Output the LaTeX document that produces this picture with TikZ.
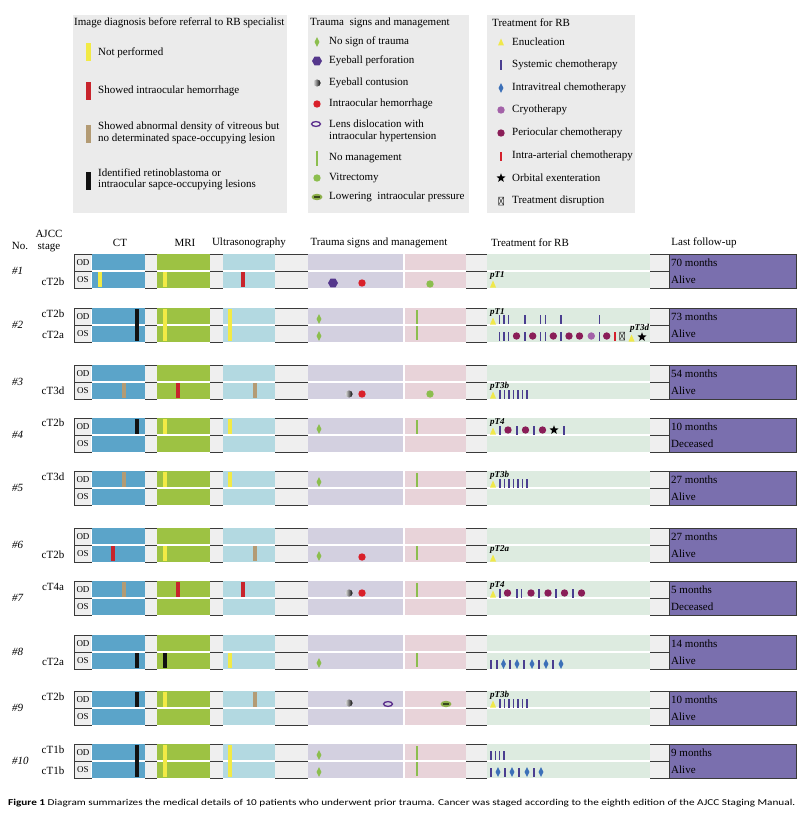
\documentclass[tikz,border=0pt]{standalone}
\usepackage{fontspec}
\setmainfont{Liberation Serif}
\newfontfamily\capfont{Carlito}
\usetikzlibrary{shapes.geometric}
\definecolor{ctc}{HTML}{5BA4C9}
\definecolor{mric}{HTML}{9DC243}
\definecolor{usc}{HTML}{B3D9E1}
\definecolor{trc}{HTML}{D3D0E0}
\definecolor{pkc}{HTML}{E8D3D9}
\definecolor{txc}{HTML}{DDEBE0}
\definecolor{puc}{HTML}{7A6FAE}
\definecolor{gapc}{HTML}{EFEFEF}
\definecolor{legc}{HTML}{EBEBEB}
\definecolor{framec}{HTML}{3A3A3A}
\definecolor{yelc}{HTML}{F2EA45}
\definecolor{redc}{HTML}{C8242C}
\definecolor{tanc}{HTML}{B39B74}
\definecolor{blkc}{HTML}{111111}
\definecolor{grnc}{HTML}{8CBE4E}
\definecolor{hexc}{HTML}{55378C}
\definecolor{dotred}{HTML}{D9202A}
\definecolor{lensc}{HTML}{5A2D8C}
\definecolor{iopc}{HTML}{8DAF4A}
\definecolor{triy}{HTML}{F0E84A}
\definecolor{sysc}{HTML}{4A3E90}
\definecolor{ivc}{HTML}{3C70B8}
\definecolor{cryc}{HTML}{A362A8}
\definecolor{perc}{HTML}{8A1E58}
\definecolor{iac}{HTML}{D4202C}
\tikzset{
  txt/.style={inner sep=0pt, anchor=west},
  ctxt/.style={inner sep=0pt},
  odos/.style={inner sep=0pt, font=\fontsize{9}{10}\selectfont},
  ptlab/.style={inner sep=0pt, anchor=west, font=\fontsize{9}{10}\selectfont\bfseries\itshape},
  legbox/.style={fill=legc, draw=none},
  gapline/.style={draw=framec, line width=0.9pt},
}
% markers
\newcommand\mCb[4]{\fill[#4] (#1-2,#2) rectangle (#1+2,#3);}
\newcommand\mCbOD[2]{\mCb{#1}{1}{16}{#2}}
\newcommand\mCbOS[2]{\mCb{#1}{18}{33}{#2}}
\newcommand\mCbF[2]{\mCb{#1}{1}{33}{#2}}
\newcommand\mDia[3]{\fill[#3] (#1,#2-5) -- (#1+2.4,#2) -- (#1,#2+5) -- (#1-2.4,#2) -- cycle;}
\newcommand\mDot[3]{\fill[#3] (#1,#2) circle (3.7);}
\newcommand\mHex[2]{\node[regular polygon, regular polygon sides=6, fill=hexc, inner sep=0pt, minimum size=10pt] at (#1,#2) {};}
\newcommand\mCont[2]{\shade[left color=gray!25, right color=black] (#1,#2) circle (3.6);}
\newcommand\mLens[2]{\draw[lensc, line width=1.3pt] (#1,#2) ellipse (4.5 and 2.4);}
\newcommand\mIop[2]{\fill[iopc] (#1,#2) ellipse (5.5 and 3.2); \draw[black!60!iopc, line width=1.2pt] (#1-3,#2) -- (#1+3,#2);}
\newcommand\mNm[3]{\fill[grnc] (#1-1.3,#2) rectangle (#1+1.3,#3);}
\newcommand\mNmOD[1]{\mNm{#1}{2}{16}}
\newcommand\mNmOS[1]{\mNm{#1}{18}{32}}
\newcommand\mSys[2]{\fill[sysc] (#1-0.9,#2-4.5) rectangle (#1+0.9,#2+4.5);}
\newcommand\mIa[2]{\fill[iac] (#1-0.9,#2-4.5) rectangle (#1+0.9,#2+4.5);}
\newcommand\mTri[2]{\fill[triy] (#1-3,#2+3.5) -- (#1+3,#2+3.5) -- (#1,#2-3.5) -- cycle;}
\newcommand\mStar[2]{\node[star, star points=5, star point ratio=2.4, fill=black, inner sep=0pt, minimum size=9.5pt] at (#1,#2) {};}
\newcommand\mDisr[2]{\draw[black!80, line width=0.5pt] (#1-2.5,#2-4) rectangle (#1+2.5,#2+4) (#1-2.5,#2-4) -- (#1+2.5,#2+4) (#1+2.5,#2-4) -- (#1-2.5,#2+4);}
\newcommand\mPt[3]{\node[ptlab] at (#1,#2) {#3};}
\newcommand\mFollow[2]{\node[txt] at (671,9) {#1}; \node[txt] at (671,26) {#2};}
\newcommand\rowbg{%
  \fill[gapc] (74,0) rectangle (669,34);
  \fill[ctc] (92,0) rectangle (145,34);
  \fill[mric] (157,0) rectangle (210,34);
  \fill[usc] (223,0) rectangle (275,34);
  \fill[trc] (308,0) rectangle (404,34);
  \fill[pkc] (404,0) rectangle (466,34);
  \fill[txc] (487,0) rectangle (650,34);
  \draw[white, line width=1.2pt] (92,17) -- (145,17) (157,17) -- (210,17) (223,17) -- (275,17) (308,17) -- (466,17) (487,17) -- (650,17) (404,0) -- (404,34);
  \foreach \a/\b in {145/157,210/223,275/308,466/487,650/669}{%
    \draw[gapline] (\a,0.5) -- (\b,0.5) (\a,17) -- (\b,17) (\a,34) -- (\b,34);}
  \draw[framec, line width=0.9pt] (92,0.5) -- (74.5,0.5) -- (74.5,34) -- (92,34) (74.5,17) -- (92,17);
  \draw[white, line width=0.6pt] (91.5,1.5) -- (91.5,16) (91.5,18) -- (91.5,33);
  \filldraw[fill=puc, draw=framec, line width=0.9pt] (669,0.5) rectangle (796,34);
  \node[odos] at (83,9) {OD};
  \node[odos] at (83,26) {OS};
}
\begin{document}
\begin{tikzpicture}[x=1pt, y=-1pt, font=\fontsize{11}{13}\selectfont]
\useasboundingbox (0,0) rectangle (811,816);
\fill[white] (0,0) rectangle (811,816);
% ---------- legend 1
\fill[legbox] (73,15) rectangle (287,213);
\node[txt] (l1t) at (74,23) {Image diagnosis before referral to RB specialist};
\fill[yelc] (86,43) rectangle (91,61);
\node[txt] (l1a) at (98,53) {Not performed};
\fill[redc] (86,82) rectangle (91,100);
\node[txt] (l1b) at (98,91) {Showed intraocular hemorrhage};
\fill[tanc] (86,125) rectangle (91,143);
\node[txt] (l1c) at (98,127) {Showed abnormal density of vitreous but};
\node[txt] (l1c2) at (98,139) {no determinated space-occupying lesion};
\fill[blkc] (86,172) rectangle (91,190);
\node[txt] (l1d) at (98,173) {Identified retinoblastoma or};
\node[txt] (l1d2) at (98,185) {intraocular sapce-occupying lesions};
% ---------- legend 2
\fill[legbox] (308,15) rectangle (469,213);
\node[txt] (l2t) at (310,23) {Trauma~ signs and management};
\mDia{317}{42}{grnc}
\node[txt] (l2a) at (329,42) {No sign of trauma};
\mHex{317}{61}
\node[txt] (l2b) at (329,61) {Eyeball perforation};
\mCont{317}{83}
\node[txt] (l2c) at (329,83) {Eyeball contusion};
\mDot{317}{104}{dotred}
\node[txt] (l2d) at (329,104) {Intraocular hemorrhage};
\mLens{316}{124}
\node[txt] (l2e) at (329,124) {Lens dislocation with};
\node[txt] (l2e2) at (329,137) {intraocular hypertension};
\mNm{317}{151}{166}
\node[txt] (l2f) at (329,158) {No management};
\mDot{317}{178}{grnc}
\node[txt] (l2g) at (329,178) {Vitrectomy};
\mIop{317}{197}
\node[txt] (l2h) at (329,197) {Lowering~ intraocular pressure};
% ---------- legend 3
\fill[legbox] (487,15) rectangle (635,213);
\node[txt] (l3t) at (492,23) {Treatment for RB};
\mTri{501}{42}
\node[txt] (l3a) at (512,42) {Enucleation};
\mSys{501}{65}
\node[txt] (l3b) at (512,65) {Systemic chemotherapy};
\mDia{501}{88}{ivc}
\node[txt] (l3c) at (512,88) {Intravitreal chemotherapy};
\mDot{501}{110}{cryc}
\node[txt] (l3d) at (512,110) {Cryotherapy};
\mDot{501}{133}{perc}
\node[txt] (l3e) at (512,133) {Periocular chemotherapy};
\mIa{501}{156}
\node[txt] (l3f) at (512,156) {Intra-arterial chemotherapy};
\mStar{501}{178}
\node[txt] (l3g) at (512,178) {Orbital exenteration};
\mDisr{501}{201}
\node[txt] (l3h) at (512,201) {Treatment disruption};
% ---------- header
\node[ctxt] (hno) at (20,246) {No.};
\node[ctxt] (hajcc) at (49,234) {AJCC};
\node[ctxt] (hstage) at (49,248) {stage};
\node[ctxt] (hct) at (120,243) {CT};
\node[ctxt] (hmri) at (185,243) {MRI};
\node[ctxt] (hus) at (249,243) {Ultrasonography};
\node[ctxt] (htr) at (379,243) {Trauma signs and management};
\node[ctxt] (htx) at (530,243) {Treatment for RB};
\node[ctxt] (hfu) at (704,243) {Last follow-up};
% ---------- row 1
\begin{scope}[shift={(0,254)}]
\rowbg
\node[txt,font=\fontsize{11}{13}\selectfont\itshape] at (12,17) {\#1};
\node[ctxt] at (53,28) {cT2b};
\mCbOS{100}{yelc} \mCbOS{165}{yelc} \mCbOS{243}{redc}
\mHex{333}{29} \mDot{362}{29}{dotred}
\mDot{430}{30}{grnc}
\mPt{490}{21}{pT1} \mTri{493}{30}
\mFollow{70 months}{Alive}
\end{scope}
% ---------- row 2
\begin{scope}[shift={(0,308)}]
\rowbg
\node[txt,font=\fontsize{11}{13}\selectfont\itshape] at (12,17) {\#2};
\node[ctxt] at (53,6) {cT2b};
\node[ctxt] at (53,27) {cT2a};
\mCbF{137}{blkc} \mCbF{165}{yelc} \mCbF{230}{yelc}
\mDia{319}{11}{grnc} \mDia{319}{28}{grnc}
\mNmOD{417} \mNmOS{417}
\mPt{490}{4}{pT1} \mTri{493}{13}
\foreach \xx in {499.5,504,508.5,525,540.5,545.5,561,599.5}{\mSys{\xx}{11}}
\foreach \xx in {499.5,504,508.5,524.7,540.5,545.5,561,599.5}{\mSys{\xx}{28}}
\foreach \xx in {516.5,532.7,553.3,569,579.5,606.7}{\mDot{\xx}{28}{perc}}
\mDot{591.3}{28}{cryc}
\mIa{615.3}{28}
\mDisr{622}{28}
\mPt{630}{20}{pT3d}
\mTri{631.5}{30}
\mStar{642}{29}
\mFollow{73 months}{Alive}
\end{scope}
% ---------- row 3
\begin{scope}[shift={(0,365)}]
\rowbg
\node[txt,font=\fontsize{11}{13}\selectfont\itshape] at (12,17) {\#3};
\node[ctxt] at (53,26) {cT3d};
\mCbOS{124}{tanc} \mCbOS{178}{redc} \mCbOS{255}{tanc}
\mCont{349}{29} \mDot{362}{29}{dotred}
\mDot{430}{29}{grnc}
\mPt{490}{21}{pT3b} \mTri{493}{30}
\foreach \xx in {500,504.5,509,513.5,518,522.5,527}{\mSys{\xx}{29}}
\mFollow{54 months}{Alive}
\end{scope}
% ---------- row 4
\begin{scope}[shift={(0,418)}]
\rowbg
\node[txt,font=\fontsize{11}{13}\selectfont\itshape] at (12,17) {\#4};
\node[ctxt] at (53,5) {cT2b};
\mCbOD{137}{blkc} \mCbOD{165}{yelc} \mCbOD{230}{yelc}
\mDia{319}{11}{grnc}
\mNmOD{417}
\mPt{490}{4}{pT4} \mTri{493}{13}
\foreach \xx in {500,517,534,564}{\mSys{\xx}{12}}
\foreach \xx in {508,525.5,542.5}{\mDot{\xx}{12}{perc}}
\mStar{554}{12}
\mFollow{10 months}{Deceased}
\end{scope}
% ---------- row 5
\begin{scope}[shift={(0,471)}]
\rowbg
\node[txt,font=\fontsize{11}{13}\selectfont\itshape] at (12,17) {\#5};
\node[ctxt] at (53,6) {cT3d};
\mCbOD{124}{tanc} \mCbOD{165}{yelc} \mCbOD{230}{yelc}
\mDia{319}{11}{grnc}
\mNmOD{417}
\mPt{490}{4}{pT3b} \mTri{493}{13}
\foreach \xx in {500,504.5,509,513.5,518,522.5,527}{\mSys{\xx}{12}}
\mFollow{27 months}{Alive}
\end{scope}
% ---------- row 6
\begin{scope}[shift={(0,528)}]
\rowbg
\node[txt,font=\fontsize{11}{13}\selectfont\itshape] at (12,17) {\#6};
\node[ctxt] at (53,27) {cT2b};
\mCbOS{113}{redc} \mCbOS{165}{yelc} \mCbOS{255}{tanc}
\mDia{319}{28}{grnc} \mDot{362}{29}{dotred}
\mNmOS{417}
\mPt{490}{21}{pT2a} \mTri{493}{30}
\mFollow{27 months}{Alive}
\end{scope}
% ---------- row 7
\begin{scope}[shift={(0,581)}]
\rowbg
\node[txt,font=\fontsize{11}{13}\selectfont\itshape] at (12,17) {\#7};
\node[ctxt] at (53,6) {cT4a};
\mCbOD{124}{tanc} \mCbOD{178}{redc} \mCbOD{243}{redc}
\mCont{349}{12} \mDot{362}{12}{dotred}
\mNmOD{417}
\mPt{490}{4}{pT4} \mTri{493}{13}
\foreach \xx in {500,517,521.5,539,556,573}{\mSys{\xx}{12}}
\foreach \xx in {507.5,531,548,564.5,581.5}{\mDot{\xx}{12}{perc}}
\mFollow{5 months}{Deceased}
\end{scope}
% ---------- row 8
\begin{scope}[shift={(0,635)}]
\rowbg
\node[txt,font=\fontsize{11}{13}\selectfont\itshape] at (12,17) {\#8};
\node[ctxt] at (53,27) {cT2a};
\mCbOS{137}{blkc} \mCbOS{165}{blkc} \mCbOS{230}{yelc}
\mDia{319}{28}{grnc}
\mNmOS{417}
\foreach \xx in {491,497,510,524,539,553}{\mSys{\xx}{29}}
\foreach \xx in {503.5,517,532,546,561}{\mDia{\xx}{29}{ivc}}
\mFollow{14 months}{Alive}
\end{scope}
% ---------- row 9
\begin{scope}[shift={(0,691)}]
\rowbg
\node[txt,font=\fontsize{11}{13}\selectfont\itshape] at (12,17) {\#9};
\node[ctxt] at (53,6) {cT2b};
\mCbOD{137}{blkc} \mCbOD{165}{yelc} \mCbOD{255}{tanc}
\mCont{349}{12} \mLens{388}{13}
\mIop{446}{13}
\mPt{490}{4}{pT3b} \mTri{493}{13}
\foreach \xx in {500,504.5,509,513.5,518,522.5,527}{\mSys{\xx}{12}}
\mFollow{10 months}{Alive}
\end{scope}
% ---------- row 10
\begin{scope}[shift={(0,744)}]
\rowbg
\node[txt,font=\fontsize{11}{13}\selectfont\itshape] at (12,17) {\#10};
\node[ctxt] at (53,6) {cT1b};
\node[ctxt] at (53,27) {cT1b};
\mCbF{137}{blkc} \mCbF{165}{yelc} \mCbF{230}{yelc}
\mDia{319}{11}{grnc} \mDia{319}{28}{grnc}
\mNmOD{417} \mNmOS{417}
\foreach \xx in {491,495.5,499.5,504}{\mSys{\xx}{11}}
\foreach \xx in {491,505,519,534}{\mSys{\xx}{28}}
\foreach \xx in {498,512,527,541}{\mDia{\xx}{28}{ivc}}
\mFollow{9 months}{Alive}
\end{scope}
% ---------- caption
\node[txt] (cap) at (8,803) {\resizebox{787pt}{\height}{\capfont\fontsize{9}{10}\selectfont\textbf{Figure 1} Diagram summarizes the medical details of 10 patients who underwent prior trauma. Cancer was staged according to the eighth edition of the AJCC Staging Manual.}};
\end{tikzpicture}
\end{document}
